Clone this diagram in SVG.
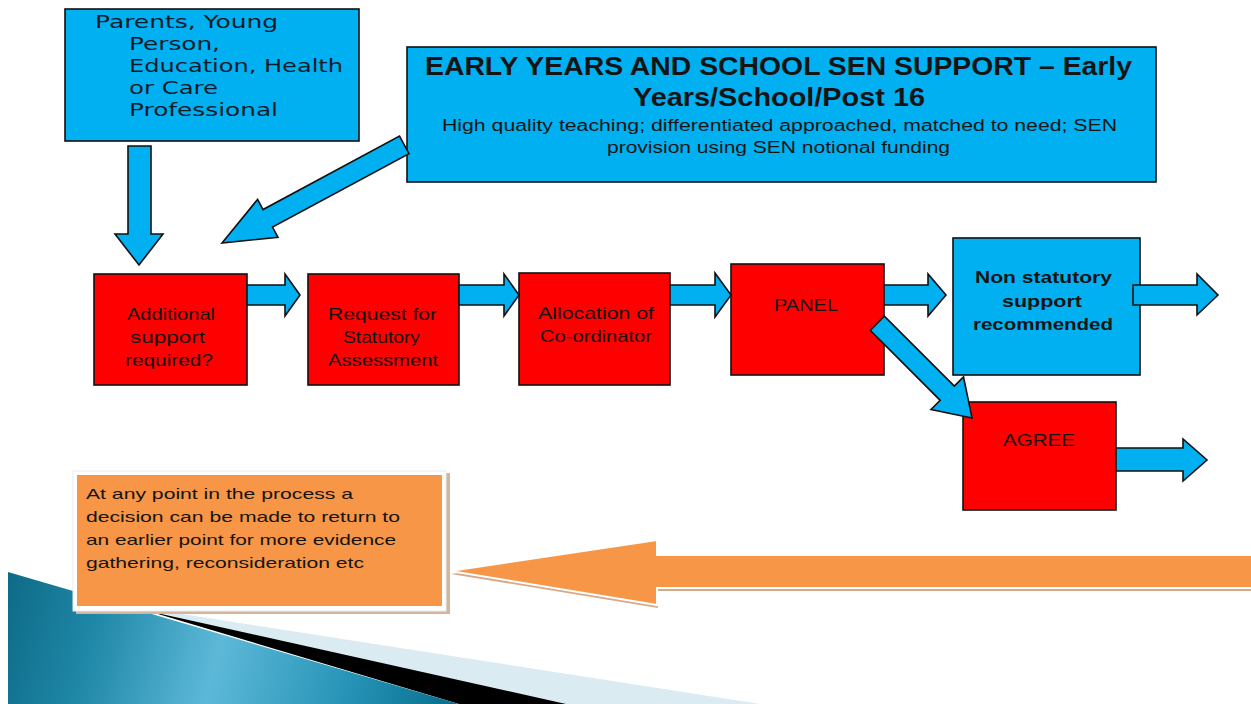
<svg xmlns="http://www.w3.org/2000/svg" width="1251" height="704" viewBox="0 0 1251 704">
  <defs>
    <style>
      .blue { fill: #00B0F0; stroke: #111; stroke-width: 1.6; }
      .red { fill: #FF0000; stroke: #111; stroke-width: 1.6; }
      .flow { fill: #00B0F0; stroke: #111; stroke-width: 1.6; stroke-linejoin: miter; }
      .lbl { font-family: "Liberation Sans", Arial, sans-serif; fill: #141414; }
      .verd { font-family: "DejaVu Sans", Verdana, sans-serif; fill: #0d1a2a; font-size: 18px; }
    </style>
    <linearGradient id="teal" gradientUnits="userSpaceOnUse" x1="8" y1="590" x2="450" y2="704">
      <stop offset="0" stop-color="#0E6C88"/>
      <stop offset="0.2" stop-color="#1F87A7"/>
      <stop offset="0.48" stop-color="#5DB8D8"/>
      <stop offset="0.78" stop-color="#2593B6"/>
      <stop offset="1" stop-color="#0B6F8E"/>
    </linearGradient>
  </defs>

  <rect width="1251" height="704" fill="#FFFFFF"/>

  <!-- corner decoration -->
  <g id="corner-decoration">
    <polygon points="150,609 760,704 459,704" fill="#DAEBF2"/>
    <polygon points="148,611 566,704 459,704" fill="#000000"/>
    <polygon points="8,572 459,704 8,704" fill="url(#teal)"/>
  </g>

  <!-- source box -->
  <g id="parents">
    <rect class="blue" x="65" y="9" width="294" height="132"/>
    <text class="verd" x="95" y="28" textLength="183" lengthAdjust="spacingAndGlyphs">Parents, Young</text>
    <text class="verd" x="129" y="50" textLength="91" lengthAdjust="spacingAndGlyphs">Person,</text>
    <text class="verd" x="129" y="72" textLength="214" lengthAdjust="spacingAndGlyphs">Education, Health</text>
    <text class="verd" x="129" y="94" textLength="89" lengthAdjust="spacingAndGlyphs">or Care</text>
    <text class="verd" x="129" y="116" textLength="149" lengthAdjust="spacingAndGlyphs">Professional</text>
  </g>

  <g id="ey-support">
    <rect class="blue" x="407" y="47" width="749" height="135"/>
    <text class="lbl" x="425" y="75" font-size="25" font-weight="bold" textLength="707" lengthAdjust="spacingAndGlyphs">EARLY YEARS AND SCHOOL SEN  SUPPORT – Early</text>
    <text class="lbl" x="633" y="106" font-size="25" font-weight="bold" textLength="292" lengthAdjust="spacingAndGlyphs">Years/School/Post 16</text>
    <text class="lbl" x="442" y="131" font-size="16" textLength="675" lengthAdjust="spacingAndGlyphs">High quality teaching; differentiated  approached,  matched  to need; SEN</text>
    <text class="lbl" x="607" y="153" font-size="16" textLength="343" lengthAdjust="spacingAndGlyphs">provision  using SEN  notional  funding</text>
  </g>

  <g id="additional">
    <rect class="red" x="94" y="274" width="153" height="111"/>
    <text class="lbl" x="127" y="320" font-size="17" textLength="88" lengthAdjust="spacingAndGlyphs">Additional</text>
    <text class="lbl" x="130" y="343" font-size="17" textLength="75" lengthAdjust="spacingAndGlyphs">support</text>
    <text class="lbl" x="125" y="366" font-size="17" textLength="88" lengthAdjust="spacingAndGlyphs">required?</text>
  </g>

  <g id="request">
    <rect class="red" x="308" y="274" width="151" height="111"/>
    <text class="lbl" x="328" y="320" font-size="17" textLength="109" lengthAdjust="spacingAndGlyphs">Request for</text>
    <text class="lbl" x="343" y="343" font-size="17" textLength="77" lengthAdjust="spacingAndGlyphs">Statutory</text>
    <text class="lbl" x="328" y="366" font-size="17" textLength="110" lengthAdjust="spacingAndGlyphs">Assessment</text>
  </g>

  <g id="allocation">
    <rect class="red" x="519" y="273" width="151" height="112"/>
    <text class="lbl" x="538" y="319" font-size="17" textLength="116" lengthAdjust="spacingAndGlyphs">Allocation  of</text>
    <text class="lbl" x="540" y="342" font-size="17" textLength="112" lengthAdjust="spacingAndGlyphs">Co-ordinator</text>
  </g>

  <g id="panel">
    <rect class="red" x="731" y="264" width="153" height="111"/>
    <text class="lbl" x="774" y="311" font-size="17" textLength="64" lengthAdjust="spacingAndGlyphs">PANEL</text>
  </g>

  <g id="non-statutory">
    <rect class="blue" x="953" y="238" width="187" height="137"/>
    <text class="lbl" x="975" y="283" font-size="17" font-weight="bold" textLength="137" lengthAdjust="spacingAndGlyphs">Non statutory</text>
    <text class="lbl" x="1002" y="307" font-size="17" font-weight="bold" textLength="80" lengthAdjust="spacingAndGlyphs">support</text>
    <text class="lbl" x="973" y="330" font-size="17" font-weight="bold" textLength="140" lengthAdjust="spacingAndGlyphs">recommended</text>
  </g>

  <g id="agree">
    <rect class="red" x="963" y="402" width="153" height="108"/>
    <text class="lbl" x="1003" y="446" font-size="17" textLength="72" lengthAdjust="spacingAndGlyphs">AGREE</text>
  </g>

  <g id="note">
    <rect x="76" y="473" width="374" height="141" fill="#D6B59C"/>
    <rect x="73" y="471" width="373" height="140" fill="#FFFFFF" stroke="#ECECEC" stroke-width="1"/>
    <rect x="77" y="475" width="365" height="131" fill="#F79646"/>
    <text class="lbl" x="86" y="499" font-size="15" textLength="267" lengthAdjust="spacingAndGlyphs">At any  point  in the  process  a</text>
    <text class="lbl" x="86" y="522" font-size="15" textLength="314" lengthAdjust="spacingAndGlyphs">decision  can  be  made  to  return  to</text>
    <text class="lbl" x="86" y="545" font-size="15" textLength="310" lengthAdjust="spacingAndGlyphs">an earlier point  for  more  evidence</text>
    <text class="lbl" x="86" y="568" font-size="15" textLength="278" lengthAdjust="spacingAndGlyphs">gathering,  reconsideration  etc</text>
  </g>

  <!-- connectors -->
  <g id="connectors">
    <polygon class="flow" points="128,146 151,146 151,234 163,234 139,265 115,234 128,234"/>
    <polygon class="flow" transform="translate(222,243) rotate(-28.3)" points="0,0 52,-21.5 52,-10 207,-10 207,10 52,10 52,21.5"/>
    <polygon class="flow" points="247,285 285,285 285,274 300,295 285,316 285,305 247,305"/>
    <polygon class="flow" points="459,285 504,285 504,274 519,295 504,316 504,305 459,305"/>
    <polygon class="flow" points="670,285 715,285 715,273 731,295 715,317 715,305 670,305"/>
    <polygon class="flow" points="884,285 928,285 928,274 946,295 928,316 928,305 884,305"/>
    <polygon class="flow" transform="translate(972,418) rotate(225)" points="0,0 35,-23 35,-10 134,-10 134,10 35,10 35,23"/>
    <polygon class="flow" points="1133,285 1197,285 1197,274 1218,295 1197,315 1197,305 1133,305"/>
    <polygon class="flow" points="1116,448 1183,448 1183,439 1207,460 1183,481 1183,471 1116,471"/>
    <g id="return-arrow">
      <polygon points="451,574 658,543 658,558 1260,558 1260,591 658,591 658,608" fill="#D6A887"/>
      <polygon points="450,571 657,540 657,555 1260,555 1260,588 657,588 657,605" fill="#F79646" stroke="#FFFFFF" stroke-width="2"/>
    </g>
  </g>
</svg>
